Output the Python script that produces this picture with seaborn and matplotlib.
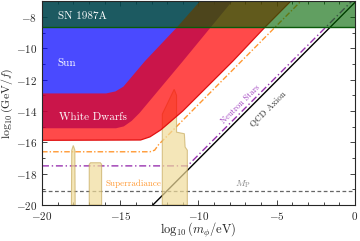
import numpy as np
import pandas as pd
import matplotlib
matplotlib.use('Agg')
import matplotlib.pyplot as plt
import seaborn as sns

# axis ranges
x_range = [-20, 0]
y_range = [-20, -7]

# Sun (blue): lower edge, region extends to top
sun_x = [-20, -15.3, -14.8, -14.3, -13.8, -11.05, -9.27, -7.9]
sun_y = [-15.07, -15.07, -14.95, -14.6, -14.1, -10.82, -8.66, -7.0]

# White dwarfs (red): lower and upper edge
wd_lo_x = [-20, -13.7, -13.1, -12.4, -11.0, -7.8, -5.75, -4.1]
wd_lo_y = [-15.87, -15.85, -15.65, -15.2, -14.0, -10.82, -8.66, -7.0]
wd_hi_x = [-20, -15.9, -15.3, -14.8, -13.42, -11.37, -9.9]
wd_hi_y = [-12.88, -12.88, -12.75, -12.45, -10.82, -8.66, -7.0]

# SN 1987A band
sn_y = -8.66

# lines
sr_x = [-20, -13.1, -12.8, -12.55, -3.45]
sr_y = [-16.6, -16.6, -16.5, -16.15, -7.0]
ns_x = [-20, -10.7, -0.2]
ns_y = [-17.5, -17.5, -7.0]
qcd_x = [-13.0, 0.0]
qcd_y = [-20.08, -7.08]
mp_y = -19.09

# tan exclusion patches
tan1_x = [-18.12, -18.1, -18.0, -17.9, -17.88]
tan1_y = [-20, -16.5, -16.2, -16.5, -20]
tan2_x = [-16.98, -16.98, -16.9, -16.27, -16.19, -16.19]
tan2_y = [-20, -17.4, -17.3, -17.3, -17.4, -20]
tan3_x = [-12.31, -12.31, -11.55, -11.4, -11.4, -10.9, -10.85, -10.71, -10.71]
tan3_y = [-20, -14.2, -12.62, -13.0, -15.35, -15.45, -16.3, -16.5, -20]

sns.set_style('ticks')
plt.rcParams['font.family'] = 'serif'
plt.rcParams['font.serif'] = ['cmr10']
plt.rcParams['mathtext.fontset'] = 'cm'
plt.rcParams['axes.formatter.use_mathtext'] = True
plt.rcParams['axes.unicode_minus'] = True

fig = plt.figure(figsize=(3.6, 2.41), dpi=100)
ax = fig.add_axes([0.1167, 0.149, 0.869, 0.846])

# lines (below the tan patches)
sns.lineplot(data=pd.DataFrame({'x': qcd_x, 'y': qcd_y}), x='x', y='y', ax=ax, color='black',
             lw=1.0, estimator=None, zorder=1)
sns.lineplot(data=pd.DataFrame({'x': ns_x, 'y': ns_y}), x='x', y='y', ax=ax, color='#9933b0',
             lw=1.0, estimator=None, zorder=1, linestyle=(0, (5, 2, 1, 2)))
sns.lineplot(data=pd.DataFrame({'x': sr_x, 'y': sr_y}), x='x', y='y', ax=ax, color='#ff9933',
             lw=1.0, estimator=None, zorder=1, linestyle=(0, (4, 1.5, 1, 1.5)))
sns.lineplot(data=pd.DataFrame({'x': x_range, 'y': [mp_y, mp_y]}), x='x', y='y', ax=ax, color='#666666',
             lw=0.9, estimator=None, zorder=1, linestyle=(0, (3, 2)))

for tx, ty in [(tan1_x, tan1_y), (tan2_x, tan2_y), (tan3_x, tan3_y)]:
    ax.fill(tx, ty, facecolor='#f0dc9a', alpha=0.7, edgecolor='#c9ad62', lw=0.8, zorder=2)

# Sun
ax.fill_between(sun_x, sun_y, y_range[1], color=(0, 0, 1), alpha=0.71, lw=0, zorder=3)

# White dwarfs: polygon from lower and upper edges
wd_px = wd_lo_x + [wd_lo_x[-1]] + wd_hi_x[::-1]
wd_py = wd_lo_y + [y_range[1]] + wd_hi_y[::-1]
ax.fill(wd_px, wd_py, facecolor=(1, 0, 0), alpha=0.71, lw=0, zorder=4)
ax.plot(wd_lo_x, wd_lo_y, color='#e01010', lw=0.9, zorder=4)

# SN 1987A
ax.fill_between(x_range, sn_y, y_range[1], color='#006400', alpha=0.62, lw=0, zorder=5)
ax.axhline(sn_y, color='#0a5a0a', lw=1.0, zorder=5)

ax.text(-19.0, -7.95, 'SN 1987A', color='white', fontsize=8, va='center', ha='left', zorder=6)
ax.text(-19.0, -10.95, 'Sun', color='white', fontsize=8, va='center', ha='left', zorder=6)
ax.text(-18.9, -14.39, 'White Dwarfs', color='white', fontsize=8, va='center', ha='left', zorder=6)
ax.text(-15.97, -18.64, 'Superradiance', color='#ff9933', fontsize=6.5, va='center', ha='left', zorder=6)
ax.text(-7.3, -13.6, 'Neutron Stars', color='#a040c0', fontsize=6, va='center', ha='center',
        rotation=45, rotation_mode='anchor', zorder=6)
ax.text(-5.5, -13.9, 'QCD Axion', color='#333333', fontsize=6.5, va='center', ha='center',
        rotation=45, rotation_mode='anchor', zorder=6)
ax.text(-7.16, -18.66, r'$M_{\rm P}$', color='#888888', fontsize=7, va='center', ha='center', zorder=6)

ax.set_xlim(x_range)
ax.set_ylim(y_range)
ax.set_xticks([-20, -15, -10, -5, 0])
ax.set_xticks(np.arange(-20, 1, 1), minor=True)
ax.set_yticks([-20, -18, -16, -14, -12, -10, -8])
ax.set_yticks(np.arange(-20, -6, 1), minor=True)
ax.tick_params(which='both', direction='in', top=True, right=True, labelsize=8, width=0.6)
ax.tick_params(which='major', length=3.5)
ax.tick_params(which='minor', length=2)
for s in ax.spines.values():
    s.set_linewidth(0.8)
    s.set_zorder(7)
ax.set_xlabel(r'$\log_{10}(m_\phi/{\rm eV})$', fontsize=9)
ax.set_ylabel(r'$\log_{10}({\rm GeV}/f)$', fontsize=8.5)
ax.xaxis.set_label_coords(0.5, -0.125)
ax.yaxis.set_label_coords(-0.11, 0.5)
ax.xaxis.label.set_va('center')
ax.yaxis.label.set_va('center')

fig.savefig('out.png', dpi=100)
